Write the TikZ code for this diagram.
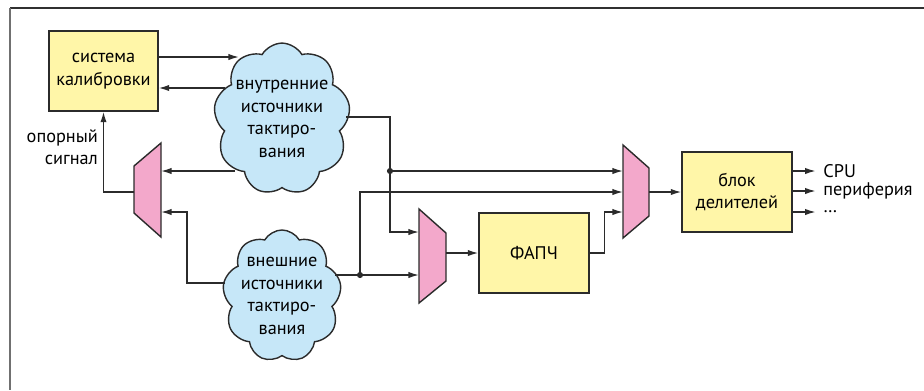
\documentclass[tikz,border=0pt]{standalone}
\usepackage{fontspec}
\setmainfont{PT Sans}
\usetikzlibrary{shapes.symbols,arrows.meta}

\definecolor{boxyellow}{HTML}{FFF6A8}
\definecolor{muxpink}{HTML}{F3A8CB}
\definecolor{cloudblue}{HTML}{C6E7F8}
\definecolor{linegray}{HTML}{2B2B2B}
\definecolor{framedark}{HTML}{303030}
\definecolor{framegray}{HTML}{707070}

\newcommand{\txt}{\fontsize{10.4}{12.8}\selectfont}

\begin{document}
\begin{tikzpicture}[x=0.02cm, y=-0.02cm]
    \tikzstyle{block}=[draw=linegray, fill=boxyellow, line width=0.8pt, minimum width=2.2cm, minimum height=1.6cm, align=center, font=\txt];
    \tikzstyle{source}=[cloud, cloud puffs=9, cloud puff arc=120, aspect=0.85, draw=linegray, fill=cloudblue, line width=0.8pt, align=center, font=\txt, inner xsep=-3pt, inner ysep=-1pt];
    \tikzstyle{mux}=[draw=linegray, fill=muxpink, line width=0.8pt];
    \tikzstyle{sig}=[draw=linegray, line width=0.8pt, -{Latex[length=6pt, width=3.6pt]}];
    \tikzstyle{dot}=[circle, fill=linegray, inner sep=0pt, minimum size=3.5pt];
    \tikzstyle{tag}=[font=\txt, inner sep=1pt];

    \useasboundingbox (0,0) rectangle (924,390);

    % frame
    \draw[line width=1.2pt, draw=framedark] (10,8) -- (924,8);
    \draw[line width=1.4pt, draw=framegray] (10,8) -- (10,390);

    \node (calib) at (103.5,71) [block, minimum width=2.18cm] {система\\калибровки};
    \node (pll) at (534,253) [block] {ФАПЧ};
    \node (div) at (737,192) [block] {блок\\делителей};

    \node (inner) at (282,119) [source] {внутренние\\источники\\тактиро-\\вания};
    \node (outer) at (282,296) [source] {внешние\\источники\\тактиро-\\вания};

    \node (ref) at (100,147) [tag, anchor=east, align=right] {опорный\\сигнал};

    % multiplexers
    \draw[mux] (134,166) -- (161,143) -- (161,237) -- (134,213) -- cycle;
    \draw[mux] (419,209) -- (446,233) -- (446,281) -- (419,303) -- cycle;
    \draw[mux] (623,145) -- (649,168) -- (649,216) -- (623,238) -- cycle;

    \coordinate (muxL-out) at (134,192);
    \coordinate (muxL-in1) at (161,171);
    \coordinate (muxL-in2) at (161,212);
    \coordinate (muxB-in1) at (419,232);
    \coordinate (muxB-in2) at (419,275);
    \coordinate (muxB-out) at (446,253);
    \coordinate (muxR-in1) at (623,171);
    \coordinate (muxR-in2) at (623,192);
    \coordinate (muxR-in3) at (623,212);
    \coordinate (muxR-out) at (649,192);

    % pins on the clouds
    \coordinate (inner-a) at (239,57);
    \coordinate (inner-b) at (225,88);
    \coordinate (inner-c) at (235,171);
    \coordinate (inner-out) at (346,117);
    \coordinate (outer-a) at (225,283);
    \coordinate (outer-out) at (335,275);

    \node (j1) at (390,171) [dot] {};
    \node (j2) at (360,275) [dot] {};

    \draw[sig] (calib.east |- inner-a) -- (inner-a);
    \draw[sig] (inner-b) -- (calib.east |- inner-b);
    \draw[sig] (inner-c) -- (muxL-in1);
    \draw[sig] (outer-a) -- ++(-38,0) |- (muxL-in2);
    \draw[sig] (muxL-out) -| (calib.south);

    \draw[sig] (inner-out) -| (j1.center) |- (muxB-in1);
    \draw[sig] (j1) -- (muxR-in1);
    \draw[sig] (outer-out) -- (muxB-in2);
    \draw[sig] (j2.center) |- (muxR-in2);

    \draw[sig] (muxB-out) -- (pll.west);
    \draw[sig] (pll.east) -- ++(15,0) |- (muxR-in3);
    \draw[sig] (muxR-out) -- (div.west);

    \draw[sig] (div.east |- 0,171) -- ++(23,0) node (cpu) [tag, anchor=west, xshift=3pt] {CPU};
    \draw[sig] (div.east |- 0,191) -- ++(23,0) node (periph) [tag, anchor=west, xshift=3pt] {периферия};
    \draw[sig] (div.east |- 0,212) -- ++(23,0) node (more) [tag, anchor=west, xshift=3pt] {\ldots};

\end{tikzpicture}
\end{document}
